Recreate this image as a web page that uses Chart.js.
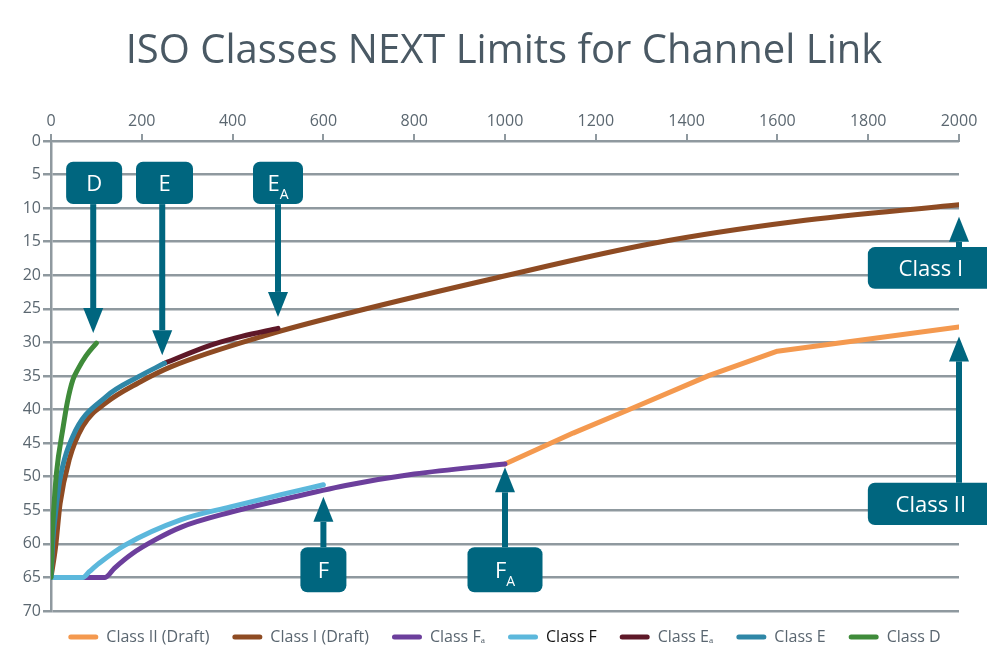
<!DOCTYPE html>
<html>
<head>
<meta charset="utf-8">
<script src="https://cdn.jsdelivr.net/npm/chart.js@4"></script>
<style>
  html, body { margin: 0; padding: 0; overflow: hidden; background: #fff; }
  #wrap { position: relative; width: 987px; height: 660px; }
</style>
</head>
<body>
<div id="wrap"><canvas id="chartCanvas"></canvas></div>
<script>
// NEXT limits: frequency (MHz) and NEXT (dB)
const classDFreq = [0, 1.5, 5, 12, 27, 36, 48, 60, 77, 100];
const classDNext = [65, 60.4, 56, 49.5, 42.5, 38.9, 35.6, 33.9, 32.0, 30.1];

const classEFreq = [0, 1.5, 4, 9, 19.5, 48, 121, 193, 250];
const classENext = [65, 62.9, 59.5, 56, 50.5, 44, 38.1, 35.1, 33.1];

const classEAFreq = [250, 352, 420, 500];
const classEANext = [33.1, 30.4, 29.1, 27.9];

const classFFreq = [0, 70, 85, 106, 163, 287, 395, 504, 600];
const classFNext = [65, 65, 64.1, 62.9, 60.2, 56.4, 54.5, 52.7, 51.2];

const classFAFreq = [0, 119, 140, 178, 232, 287, 395, 504, 649, 800, 1000];
const classFANext = [65, 65, 63.6, 61.5, 59.3, 57.5, 55.3, 53.5, 51.3, 49.6, 48.1];

const classIFreq = [0, 10, 20, 40, 70, 121, 193, 265, 475, 670, 980, 1330, 1640, 2000];
const classINext = [65, 60.5, 54, 47.5, 42.5, 39, 36, 33.6, 28.9, 25.4, 20.4, 15.2, 12.0, 9.5];

const classIIFreq = [1000, 1150, 1270, 1450, 1600, 2000];
const classIINext = [48.1, 43.5, 40.1, 34.9, 31.3, 27.7];

const seriesNames = ['Class D', 'Class E', 'Class E\u2090', 'Class F', 'Class F\u2090', 'Class I (Draft)', 'Class II (Draft)'];
const seriesColors = ['#3f8b3a', '#2f87a7', '#5e1828', '#5cb8dc', '#6c3f9c', '#8e4b23', '#f4994f'];

const chartTitle = 'ISO Classes NEXT Limits for Channel Link';

// callout boxes with arrows, placed in data units
const callouts = [
  { text: 'D', sub: '', x: 93, boxX: 95, w: 56, top: 3.1, bottom: 9.4, tip: 28.6 },
  { text: 'E', sub: '', x: 245, boxX: 250, w: 57, top: 3.1, bottom: 9.4, tip: 31.9 },
  { text: 'E', sub: 'A', x: 500, boxX: 500, w: 50, top: 3.1, bottom: 9.4, tip: 26.2 },
  { text: 'Class I', sub: '', x: 2000, boxX: 1938, w: 126, top: 15.8, bottom: 22.0, tip: 11.3 },
  { text: 'Class II', sub: '', x: 2000, boxX: 1938, w: 126, top: 50.9, bottom: 57.2, tip: 29.1 },
  { text: 'F', sub: '', x: 600, boxX: 600, w: 46, top: 60.5, bottom: 67.2, tip: 53.0 },
  { text: 'F', sub: 'A', x: 1000, boxX: 1000, w: 75, top: 60.5, bottom: 67.2, tip: 48.6 }
];

const gridColor = '#8f999f';
const tickColor = '#5b6770';
const calloutColor = '#00667f';

function pts(xs, ys) {
    return xs.map((x, i) => ({ x: x, y: ys[i] }));
}

const seriesData = [
    pts(classDFreq, classDNext),
    pts(classEFreq, classENext),
    pts(classEAFreq, classEANext),
    pts(classFFreq, classFNext),
    pts(classFAFreq, classFANext),
    pts(classIFreq, classINext),
    pts(classIIFreq, classIINext)
];

const datasets = seriesNames.map((name, i) => ({
    label: name,
    data: seriesData[i],
    borderColor: seriesColors[i],
    backgroundColor: seriesColors[i],
    borderWidth: 5,
    pointRadius: 0,
    fill: false,
    borderCapStyle: 'round',
    borderJoinStyle: 'round',
    cubicInterpolationMode: name === 'Class II (Draft)' ? 'default' : 'monotone',
    tension: 0
}));

// title (centred on the slide, not on the plot) + arrows and boxes
const calloutPlugin = {
    id: 'callouts',
    afterDraw(chart) {
        const ctx = chart.ctx;
        const xs = chart.scales.x, ys = chart.scales.y;
        ctx.save();

        ctx.fillStyle = '#4a5964';
        ctx.font = '40px "Open Sans"';
        ctx.textAlign = 'center';
        ctx.textBaseline = 'middle';
        ctx.fillText(chartTitle, 504, 52);

        callouts.forEach(c => {
            const ax = xs.getPixelForValue(c.x);
            const bx = xs.getPixelForValue(c.boxX);
            const top = ys.getPixelForValue(c.top);
            const bottom = ys.getPixelForValue(c.bottom);
            const tip = ys.getPixelForValue(c.tip);
            const down = tip > bottom;
            const start = down ? bottom : top;
            const headLen = 25, headW = 20;
            const headBase = down ? tip - headLen : tip + headLen;

            ctx.fillStyle = calloutColor;
            ctx.fillRect(ax - 3, Math.min(start, headBase), 6, Math.abs(headBase - start));
            ctx.beginPath();
            ctx.moveTo(ax - headW / 2, headBase);
            ctx.lineTo(ax + headW / 2, headBase);
            ctx.lineTo(ax, tip);
            ctx.closePath();
            ctx.fill();

            ctx.beginPath();
            ctx.roundRect(bx - c.w / 2, top, c.w, bottom - top, 7);
            ctx.fill();

            const cy = (top + bottom) / 2;
            ctx.fillStyle = '#ffffff';
            ctx.textBaseline = 'alphabetic';
            ctx.textAlign = 'left';
            ctx.font = '22px "Open Sans"';
            const mainW = ctx.measureText(c.text).width;
            ctx.font = '14px "Open Sans"';
            const subW = c.sub ? ctx.measureText(c.sub).width : 0;
            const left = bx - (mainW + subW) / 2;
            ctx.font = '22px "Open Sans"';
            ctx.fillText(c.text, left, cy + 8);
            if (c.sub) {
                ctx.font = '14px "Open Sans"';
                ctx.fillText(c.sub, left + mainW, cy + 16);
            }
        });
        ctx.restore();
    },
    afterLayout(chart) {
        // legend row: a bit closer to the plot and centred like the title
        const lg = chart.legend;
        lg.top -= 5;
        lg.bottom -= 5;
        lg.left += 25;
        lg.right += 25;
    }
};

const ctx = document.getElementById('chartCanvas').getContext('2d');
window.myChart = new Chart(ctx, {
    type: 'line',
    data: { datasets: datasets },
    plugins: [calloutPlugin],
    options: {
        responsive: true,
        maintainAspectRatio: false,
        animation: false,
        layout: { padding: { left: 0, right: 28, top: 76, bottom: 0 } },
        plugins: {
            title: { display: false },
            legend: {
                position: 'bottom',
                reverse: true,
                labels: {
                    boxWidth: 30,
                    boxHeight: 5,
                    useBorderRadius: true,
                    borderRadius: 2.5,
                    padding: 23,
                    color: '#5a6670',
                    font: { family: 'Open Sans', size: 16 },
                    generateLabels: function(chart) {
                        return Chart.defaults.plugins.legend.labels.generateLabels(chart).map(item => {
                            item.lineWidth = 0;
                            item.strokeStyle = item.fillStyle;
                            if (item.text === 'Class F') item.fontColor = '#161616';
                            return item;
                        });
                    }
                }
            },
            tooltip: { enabled: false }
        },
        scales: {
            x: {
                type: 'linear',
                position: 'top',
                min: 0,
                max: 2000,
                ticks: {
                    stepSize: 200, color: tickColor, font: { family: 'Open Sans', size: 16 }, padding: 3, maxRotation: 0,
                    callback: v => String(v)
                },
                grid: { drawOnChartArea: false, tickLength: 7, color: gridColor, lineWidth: 2 },
                border: { color: gridColor, width: 2 },
                afterFit: function(scale) { scale.height = 65; }
            },
            y: {
                reverse: true,
                min: 0,
                max: 70,
                ticks: { stepSize: 5, color: tickColor, font: { family: 'Open Sans', size: 16 }, padding: 2 },
                grid: { color: gridColor, lineWidth: 2.5, tickLength: 8 },
                border: { color: gridColor, width: 2.5 },
                afterFit: function(scale) { scale.width = 51; }
            }
        }
    }
});
</script>
</body>
</html>
